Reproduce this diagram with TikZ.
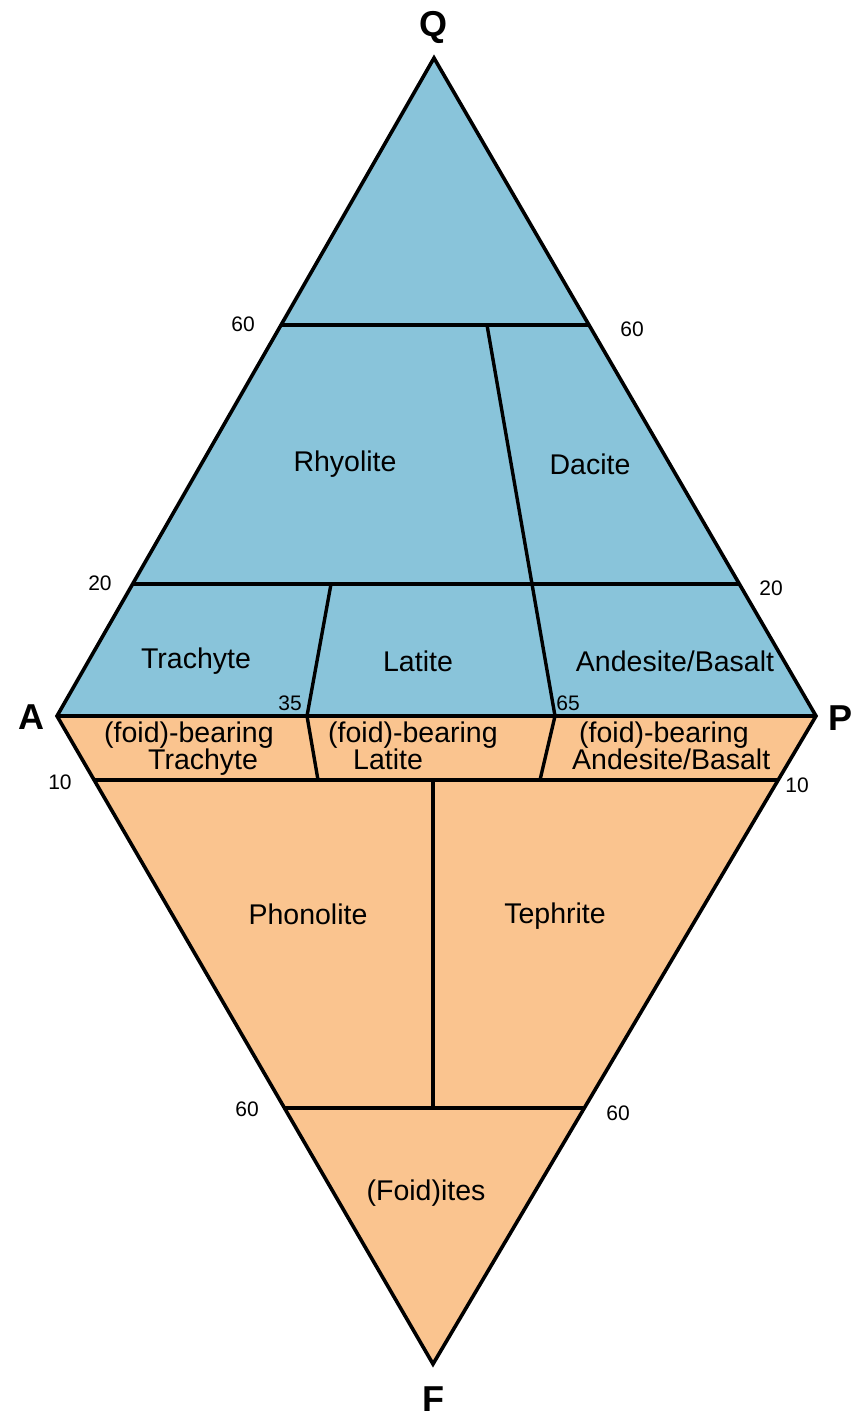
\documentclass[tikz,border=0pt]{standalone}
\usepackage{fontspec}
\setmainfont{Liberation Sans}
\definecolor{qapblue}{RGB}{137,196,218}
\definecolor{apforange}{RGB}{250,196,143}
\tikzset{
  field/.style={font=\fontsize{28.5}{27}\selectfont, align=center, inner sep=0pt},
  fieldl/.style={font=\fontsize{28.5}{27}\selectfont, align=left, inner sep=0pt},
  tick/.style={font=\fontsize{21}{22}\selectfont, inner sep=0pt},
  corner/.style={font=\fontsize{36}{38}\selectfont\bfseries, inner sep=0pt},
  border/.style={line width=3.6pt, line join=miter, line cap=butt},
  divider/.style={line width=3.4pt, line cap=butt}
}
\begin{document}
\begin{tikzpicture}[x=1pt,y=-1pt]
\useasboundingbox (0,0) rectangle (856,1418);
% vertices
\coordinate (Q) at (434,58);
\coordinate (A) at (57,716);
\coordinate (P) at (816,716);
\coordinate (F) at (433,1364);
% horizontal boundaries
\coordinate (q60L) at (281,325);
\coordinate (q60R) at (589,325);
\coordinate (q20L) at (133,584);
\coordinate (q20R) at (739,584);
\coordinate (f10L) at (94,780);
\coordinate (f10R) at (778,780);
\coordinate (f60L) at (284.5,1108);
\coordinate (f60R) at (584,1108);
% inner boundaries
\coordinate (rd1) at (487,325);
\coordinate (rd2) at (532,584);
\coordinate (tl1) at (331,584);
\coordinate (tl2) at (307,716);
\coordinate (tl3) at (318,780);
\coordinate (la2) at (555,716);
\coordinate (la3) at (540,780);
\coordinate (pt1) at (433,780);
\coordinate (pt2) at (433,1108);

% fills
\fill[qapblue] (Q) -- (A) -- (P) -- cycle;
\fill[apforange] (A) -- (F) -- (P) -- cycle;

% inner lines
\draw[divider] (q60L) -- (q60R);
\draw[divider] (q20L) -- (q20R);
\draw[divider] (A) -- (P);
\draw[divider] (f10L) -- (f10R);
\draw[divider] (f60L) -- (f60R);
\draw[divider] (rd1) -- (rd2);
\draw[divider] (tl1) -- (tl2) -- (tl3);
\draw[divider] (rd2) -- (la2) -- (la3);
\draw[divider] (pt1) -- (pt2);

% outline
\draw[border] (Q) -- (A) -- (F) -- (P) -- cycle;

% corner labels
\node[corner] (lQ) at (433,27) {Q};
\node[corner] (lA) at (31,717) {A};
\node[corner] (lP) at (840,718) {P};
\node[corner, anchor=base] (lF) at (433,1411) {F};

% tick labels
\node[tick] (t60a) at (243,324) {60};
\node[tick] (t60b) at (632,329) {60};
\node[tick] (t20a) at (100,583) {20};
\node[tick] (t20b) at (771,588) {20};
\node[tick] (t35) at (290,703) {35};
\node[tick] (t65) at (568,703) {65};
\node[tick] (t10a) at (60,782) {10};
\node[tick] (t10b) at (797,785) {10};
\node[tick] (t60c) at (247,1109) {60};
\node[tick] (t60d) at (618,1113) {60};

% field labels
\node[field] (rhy) at (345,464) {Rhyolite};
\node[field] (dac) at (590,464) {Dacite};
\node[field] (tra) at (196,661) {Trachyte};
\node[field] (lat) at (418,661) {Latite};
\node[field] (and) at (675,661) {Andesite/Basalt};
\node[fieldl, anchor=north west] (ftra) at (104,722) {(foid)-bearing\\\hspace*{44pt}Trachyte};
\node[fieldl, anchor=north west] (flat) at (328,722) {(foid)-bearing\\\hspace*{25pt}Latite};
\node[fieldl, anchor=north west] (fand) at (572,722) {\hspace*{7pt}(foid)-bearing\\Andesite/Basalt};
\node[field] (pho) at (308,914) {Phonolite};
\node[field] (tep) at (555,916) {Tephrite};
\node[field] (foi) at (426,1193) {(Foid)ites};
\end{tikzpicture}
\end{document}
